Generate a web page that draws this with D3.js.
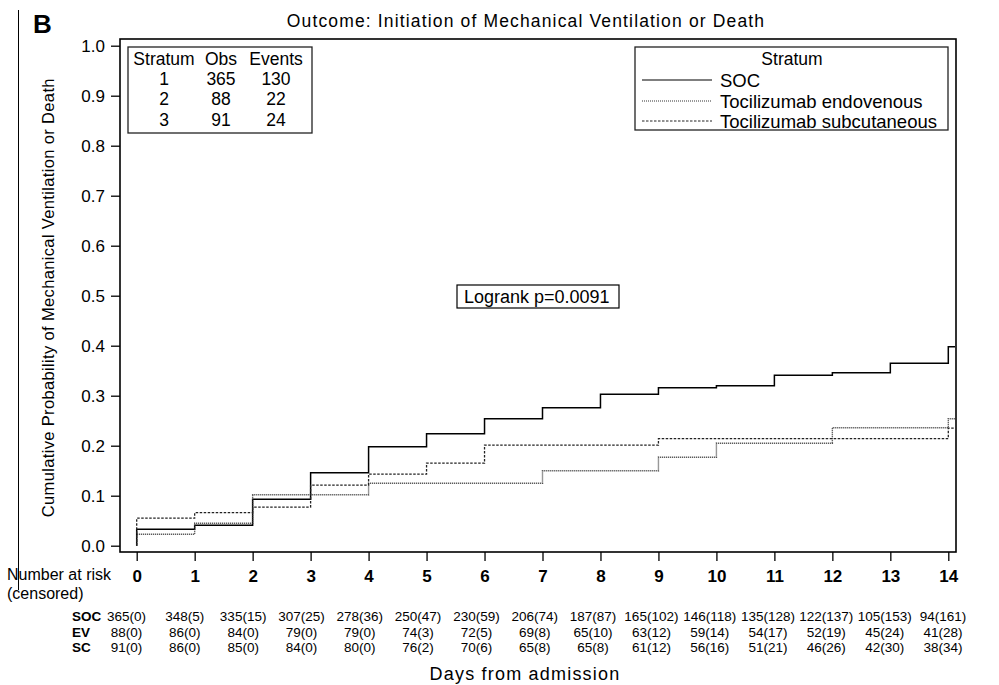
<!DOCTYPE html>
<html>
<head>
<meta charset="utf-8">
<script src="https://cdn.jsdelivr.net/npm/d3@7/dist/d3.min.js"></script>
<style>
  body { margin: 0; background: #fff; }
  text { font-family: "Liberation Sans", Arial, Helvetica, sans-serif; fill: #000; }
</style>
</head>
<body>
<svg id="chart" width="999" height="685"></svg>
<script>
// Days since admission (x categories)
const days = [0, 1, 2, 3, 4, 5, 6, 7, 8, 9, 10, 11, 12, 13, 14];

// Cumulative probability of mechanical ventilation or death, value after each day's step
const socCum = [0.033, 0.041, 0.093, 0.146, 0.198, 0.224, 0.254, 0.276, 0.303, 0.316, 0.320, 0.341, 0.346, 0.365, 0.398];
const evCum  = [0.023, 0.045, 0.102, 0.102, 0.125, 0.125, 0.125, 0.150, 0.150, 0.177, 0.205, 0.205, 0.236, 0.236, 0.254];
const scCum  = [0.055, 0.066, 0.077, 0.121, 0.143, 0.165, 0.201, 0.201, 0.201, 0.214, 0.214, 0.214, 0.214, 0.214, 0.235];

// Number at risk (censored)
const socRisk = ["365(0)", "348(5)", "335(15)", "307(25)", "278(36)", "250(47)", "230(59)", "206(74)", "187(87)", "165(102)", "146(118)", "135(128)", "122(137)", "105(153)", "94(161)"];
const evRisk  = ["88(0)", "86(0)", "84(0)", "79(0)", "79(0)", "74(3)", "72(5)", "69(8)", "65(10)", "63(12)", "59(14)", "54(17)", "52(19)", "45(24)", "41(28)"];
const scRisk  = ["91(0)", "86(0)", "85(0)", "84(0)", "80(0)", "76(2)", "70(6)", "65(8)", "65(8)", "61(12)", "56(16)", "51(21)", "46(26)", "42(30)", "38(34)"];
const riskRowLabels = ["SOC", "EV", "SC"];

// Stratum summary table
const statHeader = ["Stratum", "Obs", "Events"];
const statStratum = ["1", "2", "3"];
const statObs = ["365", "88", "91"];
const statEvents = ["130", "22", "24"];

// Legend entries
const legendNames = ["SOC", "Tocilizumab endovenous", "Tocilizumab subcutaneous"];

const yTicks = [0, 0.1, 0.2, 0.3, 0.4, 0.5, 0.6, 0.7, 0.8, 0.9, 1.0];
const logrankText = "Logrank p=0.0091";

const svg = d3.select("#chart");

// Plot frame
const frame = { left: 120, right: 956, top: 39, bottom: 552 };

const x = d3.scaleLinear().domain([0, 14]).range([136.7, 948.3]);
const y = d3.scaleLinear().domain([0, 1]).range([545.7, 45.7]);
const riskX = d3.scaleLinear().domain([0, 14]).range([126.5, 943]);

// Panel letter and separator rule
svg.append("line").attr("x1", 18.5).attr("x2", 18.5).attr("y1", 10).attr("y2", 590)
  .attr("stroke", "#000").attr("stroke-width", 1);
svg.append("text").attr("x", 33).attr("y", 33)
  .style("font-size", "26px").style("font-weight", "bold").text("B");

// Title
svg.append("text").attr("x", 526).attr("y", 27).attr("text-anchor", "middle")
  .style("font-size", "17.5px").style("letter-spacing", "1.15px")
  .text("Outcome: Initiation of Mechanical Ventilation or Death");

// Y axis
const yAxis = svg.append("g").attr("transform", `translate(${frame.left},0)`)
  .call(d3.axisLeft(y).tickValues(yTicks).tickFormat(d3.format(".1f")).tickSize(9).tickPadding(6));
yAxis.select(".domain").remove();
yAxis.selectAll("line").attr("stroke", "#000").attr("stroke-width", 1.3);
yAxis.selectAll("text").style("font-size", "17px").attr("fill", "#000");

// X axis
const xAxis = svg.append("g").attr("transform", `translate(0,${frame.bottom})`)
  .call(d3.axisBottom(x).tickValues(days).tickFormat(d3.format("d")).tickSize(9));
xAxis.select(".domain").remove();
xAxis.selectAll("line").attr("stroke", "#000").attr("stroke-width", 1.3);
xAxis.selectAll("text").attr("y", 30).attr("dy", null)
  .style("font-size", "17px").style("font-weight", "bold").attr("fill", "#000");

// Frame box
svg.append("rect")
  .attr("x", frame.left).attr("y", frame.top)
  .attr("width", frame.right - frame.left).attr("height", frame.bottom - frame.top)
  .attr("fill", "none").attr("stroke", "#000").attr("stroke-width", 1.6);

// Y axis title
svg.append("text")
  .attr("transform", `translate(54,${(y(0) + y(1)) / 2 + 2}) rotate(-90)`)
  .attr("text-anchor", "middle")
  .style("font-size", "16.5px").style("letter-spacing", "0.35px")
  .text("Cumulative Probability of Mechanical Ventilation or Death");

// Step curves
const line = d3.line().x(d => x(d[0])).y(d => y(d[1])).curve(d3.curveStepAfter);
const xEnd = x.invert(frame.right - 1);
function stepPoints(cum) {
  const pts = [[days[0], 0]];
  days.forEach((d, i) => pts.push([d, cum[i]]));
  pts.push([xEnd, cum[cum.length - 1]]);
  return pts;
}
const series = [
  { name: legendNames[0], cum: socCum, stroke: "#000", dash: null, width: 1.5 },
  { name: legendNames[1], cum: evCum,  stroke: "#333", dash: "1,1", width: 1.4 },
  { name: legendNames[2], cum: scCum,  stroke: "#222", dash: "2.5,1.5", width: 1.3 }
];
svg.append("g").selectAll("path").data(series).join("path")
  .attr("d", s => line(stepPoints(s.cum)))
  .attr("fill", "none")
  .attr("stroke", s => s.stroke)
  .attr("stroke-width", s => s.width)
  .attr("stroke-dasharray", s => s.dash);

// Stratum summary box
const stat = svg.append("g");
stat.append("rect").attr("x", 128).attr("y", 47).attr("width", 184).attr("height", 86)
  .attr("fill", "#fff").attr("stroke", "#222").attr("stroke-width", 1.3);
const statCols = [164, 221, 276];
const statRows = [65, 85, 105, 126];
statHeader.forEach((h, i) => stat.append("text").attr("x", statCols[i]).attr("y", statRows[0])
  .attr("text-anchor", "middle").style("font-size", "17.5px").text(h));
statStratum.forEach((v, r) => {
  [v, statObs[r], statEvents[r]].forEach((t, c) =>
    stat.append("text").attr("x", statCols[c]).attr("y", statRows[r + 1])
      .attr("text-anchor", "middle").style("font-size", "17.5px").text(t));
});

// Legend box
const leg = svg.append("g");
leg.append("rect").attr("x", 635).attr("y", 47).attr("width", 313).attr("height", 83)
  .attr("fill", "#fff").attr("stroke", "#222").attr("stroke-width", 1.3);
leg.append("text").attr("x", 792).attr("y", 65).attr("text-anchor", "middle")
  .style("font-size", "17.5px").text("Stratum");
const legRows = [80, 101, 121];
series.forEach((s, i) => {
  leg.append("line").attr("x1", 642).attr("x2", 712).attr("y1", legRows[i]).attr("y2", legRows[i])
    .attr("stroke", s.stroke).attr("stroke-width", s.width - 0.3).attr("stroke-dasharray", s.dash);
  leg.append("text").attr("x", 720).attr("y", legRows[i] + 6.5)
    .style("font-size", "18.5px").text(s.name);
});

// Log-rank annotation
svg.append("rect").attr("x", 457).attr("y", 285).attr("width", 162).attr("height", 23)
  .attr("fill", "#fff").attr("stroke", "#000").attr("stroke-width", 1.2);
svg.append("text").attr("x", 464).attr("y", 302.5).style("font-size", "18px").text(logrankText);

// Number at risk table
svg.append("text").attr("x", 7).attr("y", 580).style("font-size", "16px").text("Number at risk");
svg.append("text").attr("x", 7).attr("y", 599).style("font-size", "16px").text("(censored)");
const riskRows = [socRisk, evRisk, scRisk];
const riskY = [621, 636.5, 652];
const risk = svg.append("g");
riskRows.forEach((row, r) => {
  risk.append("text").attr("x", 72).attr("y", riskY[r])
    .style("font-size", "13.5px").style("font-weight", "bold").text(riskRowLabels[r]);
  risk.selectAll(null).data(row).join("text")
    .attr("x", (d, i) => riskX(days[i])).attr("y", riskY[r])
    .attr("text-anchor", "middle").style("font-size", "13.5px").text(d => d);
});

// X axis title
svg.append("text").attr("x", 525).attr("y", 680).attr("text-anchor", "middle")
  .style("font-size", "18px").style("letter-spacing", "1.2px").text("Days from admission");
</script>
</body>
</html>
